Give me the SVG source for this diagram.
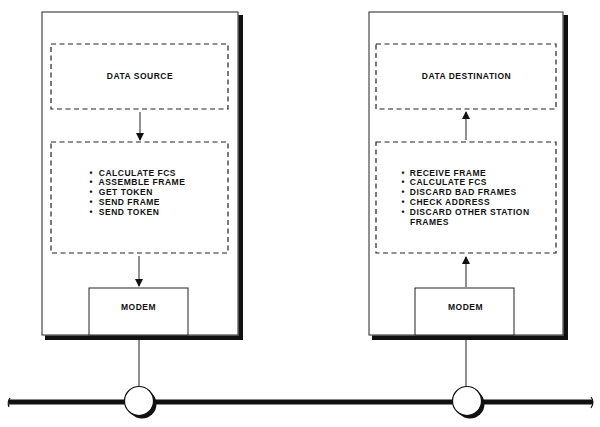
<svg xmlns="http://www.w3.org/2000/svg" width="600" height="427" viewBox="0 0 600 427">
<defs>
<style>
text{font-family:"Liberation Sans",Arial,sans-serif;font-weight:bold;font-size:8.5px;letter-spacing:0.5px;fill:#111}
.c{text-anchor:middle}
.outer{fill:#fff;stroke:#222;stroke-width:1}
.edge{fill:#111;stroke:none}
.dash{fill:none;stroke:#222;stroke-width:1.2;stroke-dasharray:5,3.5}
.modem{fill:#fff;stroke:#222;stroke-width:1}
.ln{stroke:#222;stroke-width:1;fill:none}
.bus{stroke:#111;stroke-width:5;fill:none}
.tap{fill:#fff;stroke:#111;stroke-width:1.2}
</style>
<marker id="ah" markerWidth="8" markerHeight="10" refX="7" refY="4" orient="auto" markerUnits="userSpaceOnUse">
<path d="M0,0 L8,4 L0,8 Z" fill="#111"/>
</marker>
</defs>
<rect width="600" height="427" fill="#fff"/>
<g id="bus">
<path class="bus" d="M9,402 L593,402"/>
<path d="M10,398 Q7,402 9,407" stroke="#111" stroke-width="1.2" fill="none"/>
<path d="M591,397 Q595,402 591,408" stroke="#111" stroke-width="1.2" fill="none"/>
</g>
<g id="station-left">
<rect class="outer" x="42" y="12" width="196" height="323"/>
<rect class="edge" x="238.5" y="15" width="4.5" height="325" fill="#111"/>
<rect class="edge" x="45" y="335.5" width="198" height="4.5" fill="#111"/>
<g id="data-source">
<rect class="dash" x="51" y="44" width="177" height="65"/>
<text class="c" x="140" y="78.5">DATA SOURCE</text>
</g>
<g id="tx-functions">
<rect class="dash" x="51" y="142" width="177" height="111"/>
<text x="89.5" y="175.5">• <tspan dx="3">CALCULATE FCS</tspan></text>
<text x="89.5" y="185.3">• <tspan dx="3">ASSEMBLE FRAME</tspan></text>
<text x="89.5" y="195.1">• <tspan dx="3">GET TOKEN</tspan></text>
<text x="89.5" y="204.9">• <tspan dx="3">SEND FRAME</tspan></text>
<text x="89.5" y="214.7">• <tspan dx="3">SEND TOKEN</tspan></text>
</g>
<g id="modem-left">
<rect class="modem" x="89" y="288" width="99" height="47"/>
<text class="c" x="138.5" y="309.5">MODEM</text>
</g>
</g>
<g id="station-right">
<rect class="outer" x="369" y="12" width="194" height="323"/>
<rect class="edge" x="563.5" y="15" width="4.5" height="325" fill="#111"/>
<rect class="edge" x="372" y="335.5" width="196" height="4.5" fill="#111"/>
<g id="data-destination">
<rect class="dash" x="376" y="44" width="180" height="65"/>
<text class="c" x="466.5" y="78.5">DATA DESTINATION</text>
</g>
<g id="rx-functions">
<rect class="dash" x="376" y="142" width="180" height="111"/>
<text x="401.5" y="175.5">• <tspan dx="2">RECEIVE FRAME</tspan></text>
<text x="401.5" y="185.3">• <tspan dx="2">CALCULATE FCS</tspan></text>
<text x="401.5" y="195.1">• <tspan dx="2">DISCARD BAD FRAMES</tspan></text>
<text x="401.5" y="204.9">• <tspan dx="2">CHECK ADDRESS</tspan></text>
<text x="401.5" y="214.7">• <tspan dx="2">DISCARD OTHER STATION</tspan></text>
<text x="410" y="224.5">FRAMES</text>
</g>
<g id="modem-right">
<rect class="modem" x="415" y="288" width="99" height="47"/>
<text class="c" x="465.5" y="309.5">MODEM</text>
</g>
</g>
<g id="tap-left">
<circle class="edge" cx="142" cy="404" r="14.5" fill="#111"/>
<circle class="tap" cx="139" cy="401" r="14.5"/>
</g>
<g id="tap-right">
<circle class="edge" cx="470" cy="404" r="14.5" fill="#111"/>
<circle class="tap" cx="467" cy="401" r="14.5"/>
</g>
<g id="connectors">
<line class="ln" x1="140" y1="112" x2="140" y2="140" marker-end="url(#ah)"/>
<line class="ln" x1="139" y1="256" x2="139" y2="286" marker-end="url(#ah)"/>
<line class="ln" x1="139" y1="340" x2="139" y2="386.5"/>
<line class="ln" x1="466" y1="140" x2="466" y2="112" marker-end="url(#ah)"/>
<line class="ln" x1="466" y1="287" x2="466" y2="257" marker-end="url(#ah)"/>
<line class="ln" x1="466" y1="340" x2="466" y2="386.5"/>
</g>
</svg>
